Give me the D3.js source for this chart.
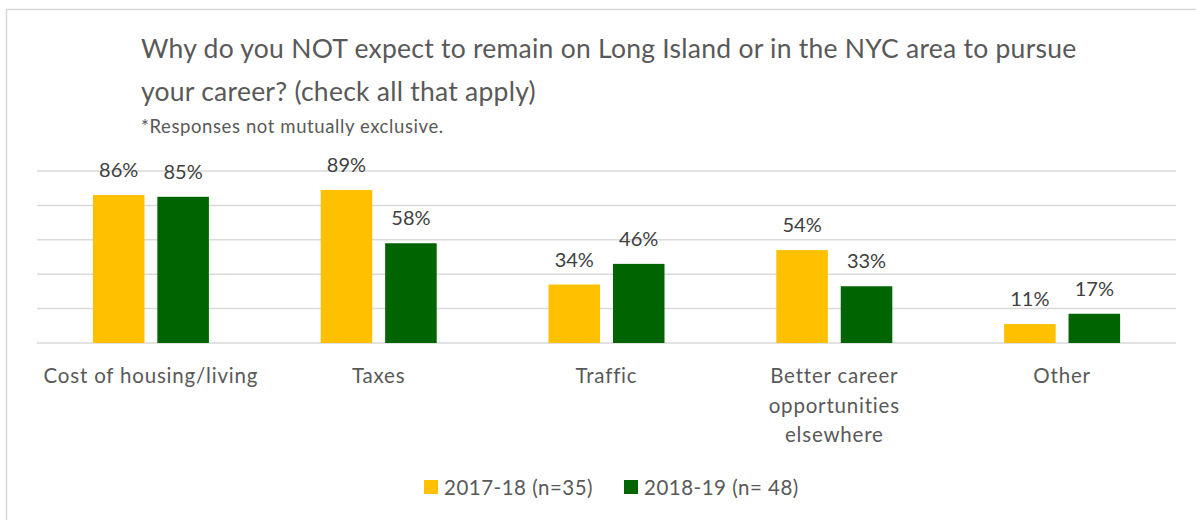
<!DOCTYPE html>
<html>
<head>
<meta charset="utf-8">
<script src="https://cdn.jsdelivr.net/npm/d3@7"></script>
<style>
  body { margin: 0; background: #fff; }
  text { font-family: Lato, "Open Sans", sans-serif; }
</style>
</head>
<body>
<svg id="chart" width="1196" height="520"></svg>
<script>
"use strict";

var categories = ["Cost of housing/living", "Taxes", "Traffic", "Better career opportunities elsewhere", "Other"];
var categoryLines = [["Cost of housing/living"], ["Taxes"], ["Traffic"], ["Better career", "opportunities", "elsewhere"], ["Other"]];
var seriesNames = ["2017-18 (n=35)", "2018-19 (n= 48)"];
var values2017 = [86, 89, 34, 54, 11];
var values2018 = [85, 58, 46, 33, 17];
var gridTicks = [0, 20, 40, 60, 80, 100];
var colors = ["#FFC000", "#006400"];

var svg = d3.select("#chart");

// frame
svg.append("rect")
  .attr("x", 6.5).attr("y", 9.5)
  .attr("width", 1300).attr("height", 600)
  .attr("fill", "none")
  .attr("stroke", "#d9d9d9")
  .attr("stroke-width", 1.5);

// title
var title = svg.append("g").attr("fill", "#595959");
title.append("text")
  .attr("x", 141).attr("y", 58)
  .attr("font-size", 26.5)
  .attr("letter-spacing", 0.25)
  .text("Why do you NOT expect to remain on Long Island or in the NYC area to pursue");
title.append("text")
  .attr("x", 141).attr("y", 101)
  .attr("font-size", 26.5)
  .attr("letter-spacing", 0.25)
  .text("your career? (check all that apply)");
title.append("text")
  .attr("x", 141).attr("y", 133)
  .attr("font-size", 18.5)
  .attr("letter-spacing", 0.6)
  .text("*Responses not mutually exclusive.");

var x = d3.scaleBand()
  .domain(categories)
  .range([37, 1176]);

var xs = d3.scaleBand()
  .domain([0, 1])
  .range([-58, 58])
  .paddingInner(0.2);

var y = d3.scaleLinear()
  .domain([0, 100])
  .range([343, 171]);

// gridlines
svg.append("g")
  .selectAll("line")
  .data(gridTicks)
  .enter()
  .append("line")
  .attr("x1", 37).attr("x2", 1176)
  .attr("y1", function(d){ return y(d); })
  .attr("y2", function(d){ return y(d); })
  .attr("stroke", "#d9d9d9")
  .attr("stroke-width", 1.5);

var rows = categories.map(function(c, i){
  return {cat: c, vals: [values2017[i], values2018[i]]};
});

var groups = svg.append("g")
  .selectAll(".group")
  .data(rows)
  .enter()
  .append("g")
  .attr("class", "group")
  .attr("transform", function(d){ return "translate(" + (x(d.cat) + x.bandwidth() / 2) + ",0)"; });

groups.selectAll("rect")
  .data(function(d){ return d.vals; })
  .enter()
  .append("rect")
  .attr("x", function(d, i){ return xs(i); })
  .attr("width", xs.bandwidth())
  .attr("y", function(d){ return y(d); })
  .attr("height", function(d){ return y(0) - y(d); })
  .attr("fill", function(d, i){ return colors[i]; });

groups.selectAll(".lbl")
  .data(function(d){ return d.vals; })
  .enter()
  .append("text")
  .attr("class", "lbl")
  .attr("x", function(d, i){ return xs(i) + xs.bandwidth() / 2; })
  .attr("y", function(d){ return y(d) - 18; })
  .attr("text-anchor", "middle")
  .attr("font-size", 20)
  .attr("fill", "#404040")
  .text(function(d){ return d + "%"; });

// category labels
svg.append("g")
  .selectAll("text")
  .data(categories)
  .enter()
  .append("text")
  .attr("x", function(d){ return x(d) + x.bandwidth() / 2; })
  .attr("y", 383)
  .attr("text-anchor", "middle")
  .attr("font-size", 20.5)
  .attr("letter-spacing", 0.8)
  .attr("fill", "#595959")
  .each(function(d, i){
    var t = d3.select(this);
    categoryLines[i].forEach(function(line, j){
      t.append("tspan")
        .attr("x", x(d) + x.bandwidth() / 2)
        .attr("dy", j === 0 ? 0 : 29.5)
        .text(line);
    });
  });

// legend
var legendX = [424, 624];
var legend = svg.append("g")
  .selectAll("g")
  .data(seriesNames)
  .enter()
  .append("g")
  .attr("transform", function(d, i){ return "translate(" + legendX[i] + ",480)"; });

legend.append("rect")
  .attr("width", 14).attr("height", 14)
  .attr("fill", function(d, i){ return colors[i]; });

legend.append("text")
  .attr("x", 20).attr("y", 15)
  .attr("font-size", 20.5)
  .attr("letter-spacing", 0.5)
  .attr("fill", "#595959")
  .text(function(d){ return d; });
</script>
</body>
</html>
